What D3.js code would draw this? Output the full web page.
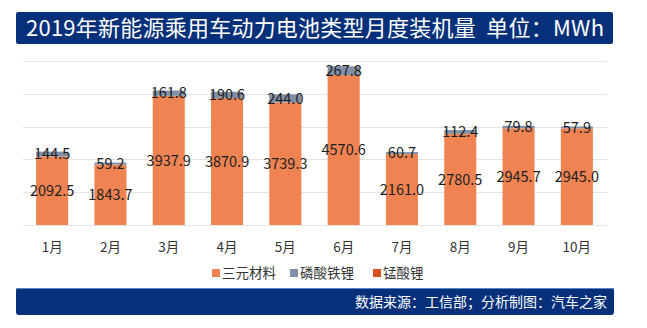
<!DOCTYPE html>
<html>
<head>
<meta charset="utf-8">
<script src="https://cdn.jsdelivr.net/npm/d3@7/dist/d3.min.js"></script>
<style>
  html, body { margin: 0; padding: 0; background: #fff; }
  svg { display: block; font-family: "Noto Sans CJK SC", "Noto Sans", sans-serif; }
</style>
</head>
<body>
<svg id="chart" width="647" height="328"></svg>
<script>
// Monthly installed capacity of passenger-car power batteries, 2019 (MWh)
const months = ["1月", "2月", "3月", "4月", "5月", "6月", "7月", "8月", "9月", "10月"];
const ternary = [2092.5, 1843.7, 3937.9, 3870.9, 3739.3, 4570.6, 2161.0, 2780.5, 2945.7, 2945.0];
const lfp = [144.5, 59.2, 161.8, 190.6, 244.0, 267.8, 60.7, 112.4, 79.8, 57.9];
const lmo = [0, 0, 0, 0, 0, 0, 0, 0, 0, 0];
const seriesNames = ["三元材料", "磷酸铁锂", "锰酸锂"];
const yTicks = [0, 1000, 2000, 3000, 4000, 5000];
const titleText = "2019年新能源乘用车动力电池类型月度装机量  单位：MWh";
const sourceText = "数据来源：工信部；分析制图：汽车之家";

const colors = ["#EF8452", "#8190A6", "#D9501E"];
const navy = "#06307A";

const svg = d3.select("#chart");

// header band
svg.append("rect").attr("x", 16).attr("y", 12).attr("width", 597).attr("height", 32)
  .attr("rx", 2).attr("fill", navy);
svg.append("text").attr("x", 26).attr("y", 28).attr("dy", "0.36em")
  .attr("fill", "#fff").attr("font-size", 22)
  .attr("textLength", 578).attr("lengthAdjust", "spacing")
  .style("white-space", "pre").text(titleText);

// footer band
svg.append("rect").attr("x", 16).attr("y", 288).attr("width", 598).attr("height", 27)
  .attr("rx", 3).attr("fill", navy);
svg.append("line").attr("x1", 16).attr("x2", 614).attr("y1", 288.5).attr("y2", 288.5)
  .attr("stroke", "#5a86c8").attr("stroke-width", 1);
svg.append("text").attr("x", 607).attr("y", 302).attr("dy", "0.36em")
  .attr("text-anchor", "end").attr("fill", "#fff").attr("font-size", 14).text(sourceText);

// scales
const x = d3.scaleBand().domain(months).range([23, 606]).paddingInner(0.45).paddingOuter(0.225);
const y = d3.scaleLinear().domain([0, 5000]).range([225, 61]);

// gridlines
svg.append("g").selectAll("line").data(yTicks).join("line")
  .attr("x1", 23).attr("x2", 607)
  .attr("y1", d => Math.round(y(d)) + 0.5).attr("y2", d => Math.round(y(d)) + 0.5)
  .attr("stroke", "#e4e4e4").attr("stroke-width", 1);

// stacked bars
const rows = months.map((m, i) => ({ month: m, s0: ternary[i], s1: lfp[i], s2: lmo[i] }));
const stack = d3.stack().keys(["s0", "s1", "s2"])(rows);

svg.append("g").selectAll("g").data(stack).join("g")
  .attr("fill", (d, i) => colors[i])
  .selectAll("rect").data(d => d).join("rect")
  .attr("x", d => x(d.data.month))
  .attr("width", x.bandwidth())
  .attr("y", d => y(d[1]))
  .attr("height", d => y(d[0]) - y(d[1]));

// value labels centred in their segments
const labelSeries = stack.slice(0, 2);
svg.append("g").selectAll("g").data(labelSeries).join("g")
  .selectAll("text").data(d => d).join("text")
  .attr("x", d => x(d.data.month) + x.bandwidth() / 2)
  .attr("y", d => y((d[0] + d[1]) / 2))
  .attr("dy", "0.36em")
  .attr("text-anchor", "middle")
  .attr("font-size", 14.5)
  .attr("fill", "#1d1d1d")
  .text(d => (d[1] - d[0]).toFixed(1));

// category axis
const xAxis = svg.append("g").attr("transform", "translate(0,225)")
  .call(d3.axisBottom(x).tickSize(0).tickPadding(17));
xAxis.select(".domain").remove();
xAxis.selectAll("text").attr("font-size", 13.5).attr("fill", "#333")
  .attr("font-family", "'Noto Sans CJK SC', sans-serif");

// legend
const legendX = [212, 290, 373];
const legend = svg.append("g").selectAll("g").data(seriesNames).join("g")
  .attr("transform", (d, i) => `translate(${legendX[i]},273)`);
legend.append("rect").attr("x", 0).attr("y", -4).attr("width", 8).attr("height", 8)
  .attr("fill", (d, i) => colors[i]);
legend.append("text").attr("x", 10).attr("dy", "0.36em").attr("font-size", 13.5)
  .attr("fill", "#333").text(d => d);
</script>
</body>
</html>
